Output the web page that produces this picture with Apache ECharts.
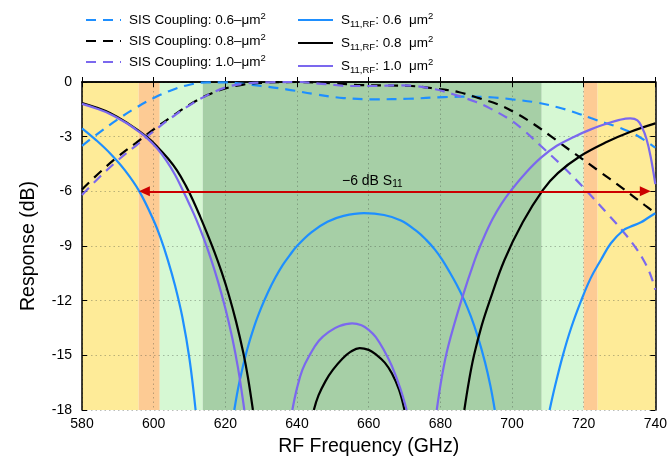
<!DOCTYPE html>
<html>
<head>
<meta charset="utf-8">
<script src="https://cdn.jsdelivr.net/npm/echarts@6/dist/echarts.min.js"></script>
<style>
  html, body { margin: 0; padding: 0; background: #fff; }
  #chart { width: 670px; height: 463px; }
</style>
</head>
<body>
<div id="chart"></div>
<script>
// Frequency axis (GHz) and response axis (dB)
const freqRange = [580, 740];
const freqStep = 20;
const respRange = [-18, 0];
const respStep = 3;

// SIS coupling efficiency, [GHz, dB]
const sisCoupling06 = [
  [580,-3.5],[585,-2.75],[590,-2.05],[595,-1.42],[600,-0.88],[605,-0.45],[610,-0.15],
  [615,-0.02],[620,-0.02],[625,-0.1],[630,-0.22],[637,-0.4],[645,-0.67],[653,-0.88],
  [662,-0.95],[671,-0.92],[681,-0.83],[689,-0.8],[695,-0.85],[700,-0.95],[707,-1.13],
  [713,-1.4],[718,-1.7],[722,-1.98],[726,-2.25],[730,-2.5],[735,-2.95],[740,-3.6]
];
const sisCoupling08 = [
  [580,-5.9],[585,-4.95],[590,-4.1],[595,-3.35],[600,-2.6],[605,-1.9],[610,-1.25],
  [615,-0.72],[620,-0.35],[625,-0.14],[631,-0.04],[640,0],[650,-0.07],[658,-0.17],
  [665,-0.19],[672,-0.22],[679,-0.37],[685,-0.55],[691,-0.9],[696,-1.22],[701,-1.7],
  [706,-2.3],[711,-3.0],[716,-3.72],[724,-4.85],[731,-5.85],[737,-6.75],[740,-7.2]
];
const sisCoupling10 = [
  [580,-6.2],[585,-5.2],[590,-4.3],[595,-3.5],[600,-2.7],[605,-1.95],[610,-1.28],
  [615,-0.72],[620,-0.3],[625,-0.1],[632,-0.02],[640,0],[648,-0.12],[655,-0.22],
  [662,-0.22],[668,-0.18],[673,-0.22],[678.6,-0.4],[683.6,-0.67],[690,-1.1],[694,-1.46],
  [699.3,-2.05],[703,-2.6],[708,-3.5],[714,-4.6],[720,-5.8],[726.5,-7.2],[731,-8.2],
  [734,-8.95],[736.5,-9.7],[738.5,-10.5],[740,-11.4]
];

// RF input reflection S11, [GHz, dB]; null breaks where the trace leaves the axis range
const s11Rf06 = [
  [580,-2.54],[584,-3.2],[588,-3.95],[592,-4.85],[596,-6.0],[600,-7.6],[602,-8.6],
  [604,-9.8],[606,-11.2],[608,-12.9],[610,-15.2],[611.7,-18],
  null,
  [622.5,-18],[624,-16.4],[626,-14.75],[628,-13.45],[630,-12.4],[632,-11.5],[634,-10.72],
  [636,-10.05],[638,-9.5],[640,-9.0],[644,-8.25],[648.5,-7.67],[653,-7.35],[658.7,-7.2],
  [664.3,-7.3],[669,-7.6],[673.5,-8.2],[676,-8.65],[678.5,-9.2],[680.5,-9.75],
  [682.5,-10.4],[684.5,-11.1],[686.5,-11.9],[688.5,-12.85],[690.5,-14.0],[692.5,-15.4],
  [694,-16.7],[695.2,-18],
  null,
  [710.5,-18],[712,-16.7],[714.2,-15],[716.5,-13.5],[719.3,-12],[722,-10.75],[724.8,-9.77],
  [727.6,-8.85],[731,-8.15],[733,-7.95],[736,-7.7],[738,-7.45],[740,-7.2]
];
const s11Rf08 = [
  [580,-1.15],[584,-1.4],[587.8,-1.7],[592.4,-2.22],[598,-3.0],[601,-3.55],[604,-4.2],
  [606.5,-4.85],[609,-5.7],[611,-6.5],[613,-7.4],[615,-8.35],[617,-9.35],[619,-10.45],
  [621,-11.7],[623,-13.15],[625,-14.85],[626.3,-16.2],[627.7,-18],
  null,
  [644.7,-18],[646,-17.2],[648,-16.4],[650,-15.8],[652.6,-15.2],[655,-14.8],[657.5,-14.6],
  [660,-14.7],[662,-14.95],[664.5,-15.4],[666.5,-16],[668.5,-16.9],[670,-18],
  null,
  [686.7,-18],[688,-16.4],[689.4,-15],[691.5,-13.4],[693.8,-12],[697.9,-9.77],[703,-7.7],
  [708.6,-5.93],[712.8,-5.0],[718.8,-4.1],[726.7,-3.27],[733.1,-2.73],[740,-2.27]
];
const s11Rf10 = [
  [580,-1.2],[584,-1.45],[587.8,-1.75],[592.4,-2.25],[595,-2.6],[598,-3.05],[601,-3.65],
  [603.5,-4.3],[606,-5.1],[608.1,-5.93],[610,-6.72],[611.9,-7.55],[614,-8.6],[616,-9.72],
  [618,-10.98],[620,-12.42],[622,-14.1],[623.5,-15.65],[624.8,-17.3],[625.3,-18],
  null,
  [638.7,-18],[640,-16.8],[641.5,-15.8],[643.5,-15.0],[646.1,-14.2],[649,-13.7],[651.7,-13.4],
  [655.4,-13.25],[658,-13.35],[660,-13.6],[662,-14.0],[664.5,-14.8],[666.5,-15.6],
  [668.8,-16.8],[670.6,-18],
  null,
  [679,-18],[680.5,-16.1],[682.2,-14.5],[685.9,-11.97],[689.6,-9.77],[692,-8.6],
  [694.5,-7.55],[697,-6.7],[699.8,-5.93],[704,-4.95],[708.1,-4.15],[712.5,-3.5],
  [717.4,-3.0],[722,-2.6],[726.7,-2.27],[730,-2.08],[733,-2.0],[735,-2.1],[736.3,-2.5],
  [737.5,-3.1],[738.7,-4.1],[740,-5.6]
];

// Shaded frequency bands: [from GHz, to GHz]
const bandEdges = [
  [580, 595.8], [595.8, 601.7], [601.7, 613.7], [613.7, 708.3],
  [708.3, 720], [720, 723.9], [723.9, 740]
];
const bandColors = ['#FEEB98', '#FDCB94', '#D6F8D3', '#A6CFA6', '#D6F8D3', '#FDCB94', '#FEEB98'];

// -6 dB S11 marker
const s11Threshold = -6;
const arrowEnds = [597.4, 737.2];
const thresholdLabelAt = 661;

// Legend names
const sisNames = ['SIS Coupling: 0.6–μm²', 'SIS Coupling: 0.8–μm²', 'SIS Coupling: 1.0–μm²'];
const s11Names = ['S11,RF: 0.6 μm²', 'S11,RF: 0.8 μm²', 'S11,RF: 1.0 μm²'];
const areas = ['0.6', '0.8', '1.0'];

const BLUE = '#1E8FFF', BLACK = '#000000', PURPLE = '#7B68EE', RED = '#CC0000';
const FONT = "'Liberation Sans', Arial, Helvetica, sans-serif";

const legendRich = {
  t: { fontFamily: FONT, fontSize: 13.5, lineHeight: 18, color: '#000', padding: [0, 0, 0, 3] },
  p: { fontFamily: FONT, fontSize: 13.5, lineHeight: 18, color: '#000' },
  sup: { fontFamily: FONT, fontSize: 9.5, lineHeight: 10, verticalAlign: 'top', color: '#000' },
  sub: { fontFamily: FONT, fontSize: 9.5, lineHeight: 9, verticalAlign: 'bottom', color: '#000' }
};
const legendText = {};
sisNames.forEach((n, i) => { legendText[n] = '{t|SIS Coupling: ' + areas[i] + '–μm}{sup|2}'; });
s11Names.forEach((n, i) => { legendText[n] = '{t|S}{sub|11,RF}{p|: ' + areas[i] + '  μm}{sup|2}'; });

const dash = [10, 7];
function lineSeries(name, data, color, dashed) {
  return {
    name: name, type: 'line', data: data, showSymbol: false, symbol: 'none',
    smooth: 0.4, connectNulls: false, clip: true,
    lineStyle: { color: color, width: 2.2, type: dashed ? dash : 'solid' },
    itemStyle: { color: color },
    emphasis: { disabled: true }, animation: false
  };
}

function legendColumn(names, left) {
  return {
    data: names, orient: 'vertical', left: left, top: 6, itemWidth: 35, itemHeight: 14, itemGap: 5,
    formatter: n => legendText[n], textStyle: { rich: legendRich }, selectedMode: false,
    itemStyle: { opacity: 0 }
  };
}

const gridLine = { show: true, lineStyle: { color: 'rgba(60,70,60,0.35)', type: [1.5, 3], width: 1 } };
const frameLine = { show: true, lineStyle: { color: '#000', width: 1.5 } };
const insideTick = { show: true, inside: true, length: 5, lineStyle: { color: '#000', width: 1 } };

const chart = echarts.init(document.getElementById('chart'), null, { renderer: 'canvas' });
chart.setOption({
  animation: false,
  backgroundColor: '#fff',
  grid: { left: 82, right: 12, top: 82, bottom: 53 },
  legend: [legendColumn(sisNames, 80), legendColumn(s11Names, 292)],
  xAxis: [
    {
      type: 'value', min: freqRange[0], max: freqRange[1], interval: freqStep,
      name: 'RF Frequency (GHz)', nameLocation: 'middle', nameGap: 27,
      nameTextStyle: { fontFamily: FONT, fontSize: 19.5, color: '#000' },
      axisLine: frameLine, axisTick: insideTick, splitLine: gridLine,
      axisLabel: { fontFamily: FONT, fontSize: 14, color: '#000', margin: 7 }
    },
    {
      type: 'value', position: 'top', min: freqRange[0], max: freqRange[1], interval: freqStep,
      axisLine: frameLine, axisTick: insideTick, splitLine: { show: false }, axisLabel: { show: false }
    }
  ],
  yAxis: [
    {
      type: 'value', min: respRange[0], max: respRange[1], interval: respStep,
      name: 'Response (dB)', nameLocation: 'middle', nameGap: 43,
      nameTextStyle: { fontFamily: FONT, fontSize: 19.5, color: '#000' },
      axisLine: frameLine, axisTick: insideTick, splitLine: gridLine,
      axisLabel: { fontFamily: FONT, fontSize: 14, color: '#000', margin: 10 }
    },
    {
      type: 'value', position: 'right', min: respRange[0], max: respRange[1], interval: respStep,
      axisLine: frameLine, axisTick: insideTick, splitLine: { show: false }, axisLabel: { show: false }
    }
  ],
  series: [
    {
      name: 'bands', type: 'line', data: [], silent: true,
      markArea: {
        silent: true, z: -1,
        data: bandEdges.map((b, i) => [
          { xAxis: b[0], itemStyle: { color: bandColors[i], opacity: 1 } },
          { xAxis: b[1] }
        ])
      }
    },
    lineSeries(sisNames[0], sisCoupling06, BLUE, true),
    lineSeries(sisNames[1], sisCoupling08, BLACK, true),
    lineSeries(sisNames[2], sisCoupling10, PURPLE, true),
    lineSeries(s11Names[0], s11Rf06, BLUE, false),
    lineSeries(s11Names[1], s11Rf08, BLACK, false),
    lineSeries(s11Names[2], s11Rf10, PURPLE, false),
    {
      name: 'threshold', type: 'line', data: [], silent: true,
      markLine: {
        silent: true, symbol: ['triangle', 'triangle'], symbolSize: [10, 11],
        lineStyle: { color: RED, width: 2, type: 'solid' },
        label: { show: false },
        data: [[{ coord: [arrowEnds[0], s11Threshold] }, { coord: [arrowEnds[1], s11Threshold] }]]
      },
      markPoint: {
        silent: true, symbol: 'circle', symbolSize: 0,
        label: {
          show: true, position: 'top', distance: 2,
          formatter: '{m|−' + Math.abs(s11Threshold) + ' dB S}{s|11}',
          rich: {
            m: { fontFamily: FONT, fontSize: 14, lineHeight: 16, color: '#000' },
            s: { fontFamily: FONT, fontSize: 10, lineHeight: 10, verticalAlign: 'bottom', color: '#000' }
          }
        },
        data: [{ coord: [thresholdLabelAt, s11Threshold] }]
      }
    }
  ]
});
</script>
</body>
</html>
